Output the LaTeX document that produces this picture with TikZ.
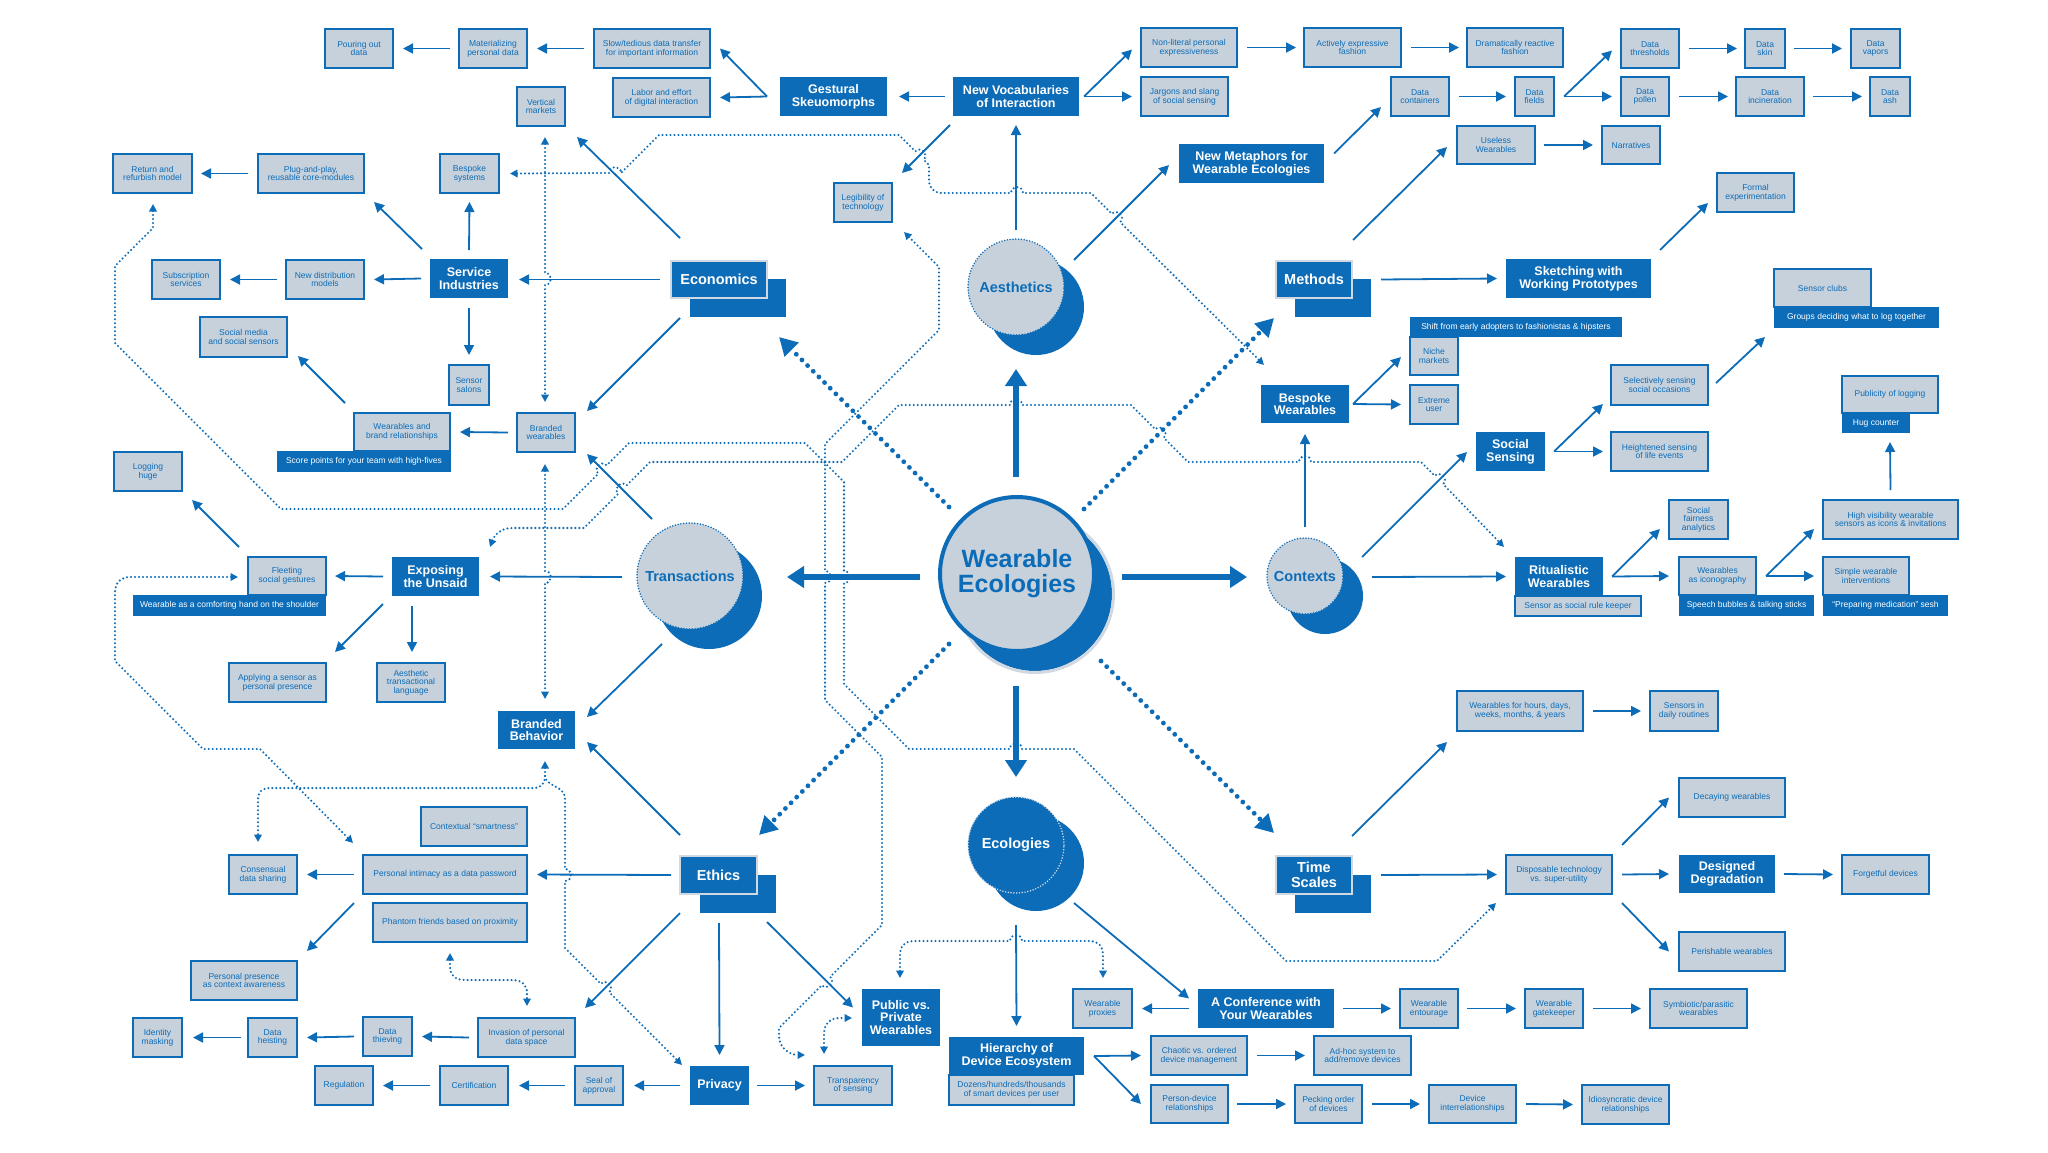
\documentclass[tikz,border=0pt]{standalone}
\usepackage{fontspec}
\setmainfont{Liberation Sans}
\usetikzlibrary{arrows.meta,calc}
\definecolor{myblue}{RGB}{12,108,184}
\definecolor{mylight}{RGB}{198,209,219}
\definecolor{halocol}{RGB}{208,217,226}
\newcommand\BX[7][leaf]{\node[#1, minimum width={(#5)-(#3)}, minimum height={(#6)-(#4)}] (#2) at ({((#3)+(#5))/2},{((#4)+(#6))/2}) {#7};}
\tikzset{
  tipS/.tip={Triangle[length=7.5pt,width=7.5pt]},
  tipM/.tip={Triangle[length=10pt,width=10pt]},
  tipL/.tip={Triangle[length=17pt,width=21pt]},
  tipD/.tip={Triangle[length=18pt,width=19pt]},
  leaf/.style={draw=myblue, fill=mylight, line width=1.8pt, inner sep=0pt, outer sep=0pt, align=center, text=myblue, font=\fontsize{8.5}{8.7}\selectfont},
  dark/.style={fill=myblue, inner sep=0pt, outer sep=0pt, align=center, text=white, font=\fontsize{12.5}{12.7}\selectfont\bfseries},
  darkL/.style={dark, font=\fontsize{14.5}{14.4}\selectfont\bfseries},
  darkS/.style={darkL, draw=halocol, line width=2pt},
  dbar/.style={fill=myblue, inner sep=0pt, outer sep=0pt, align=center, text=white, font=\fontsize{8.5}{8.7}\selectfont},
  frontc/.style={circle, inner sep=0pt, outer sep=0pt, fill=mylight, draw=myblue, line width=1.7pt, line cap=round, dash pattern=on 0pt off 2.8pt, text=myblue, font=\fontsize{14.5}{14.5}\selectfont\bfseries},
  arr/.style={draw=myblue, line width=1.8pt, -tipM},
  thk/.style={draw=myblue, line width=5.5pt, -tipL},
  thkdot/.style={draw=myblue, line width=4.8pt, line cap=round, dash pattern=on 0pt off 8pt, -tipD},
  dots/.style={draw=myblue, line width=2.3pt, line cap=round, dash pattern=on 0pt off 4pt},
  hopover/.style={bend left=90, looseness=1.7},
}
\begin{document}
\begin{tikzpicture}[x=1pt,y=-1pt]
\useasboundingbox (0,0) rectangle (2048,1152);
\fill[white] (0,0) rectangle (2048,1152);

% ---------- shadows ----------
\fill[myblue] (690,279) rectangle (786,317);
\fill[myblue] (1295,279) rectangle (1371,317);
\fill[myblue] (700,875) rectangle (776,913);
\fill[myblue] (1295,875) rectangle (1371,913);
\fill[myblue] (1036,307) circle[radius=48];
\fill[myblue] (709,596) circle[radius=53];
\fill[myblue] (1325,596) circle[radius=38];
\fill[myblue] (1036,863) circle[radius=48];
\fill[myblue] (1035,594) circle[radius=77];
\draw[halocol, line width=3pt] (1035,594) circle[radius=78.5];

% ---------- circles ----------
\node[frontc, minimum size=96pt] (aesth) at (1016,287) {Aesthetics};
\node[frontc, minimum size=106pt] (trans) at (690,576) {Transactions};
\node[frontc, minimum size=76pt] (ctx) at (1305,576) {Contexts};
\node[frontc, minimum size=96pt, fill=myblue, draw=halocol, text=white] (ecol) at (1016,845) {Ecologies};
\node[circle, minimum size=154pt, inner sep=0pt, outer sep=0pt, fill=mylight, draw=myblue, line width=4pt, text=myblue, align=center, font=\fontsize{25}{25}\selectfont\bfseries] (wec) at (1017,574) {Wearable\\Ecologies};

% ---------- top-left ----------
\BX{pour}{325}{29}{393}{68}{Pouring out\\data}
\BX{mat}{459}{29}{527}{68}{Materializing\\personal data}
\BX{slow}{594}{29}{710}{68}{Slow/tedious data transfer\\for important information}
\BX{labor}{613}{78}{710}{117}{Labor and effort\\of digital interaction}
\BX{vert}{517}{87}{565}{126}{Vertical\\markets}
\BX[dark]{gest}{780}{77}{887}{116}{Gestural\\Skeuomorphs}
\BX[dark]{newvoc}{953}{77}{1079}{116}{New Vocabularies\\of Interaction}
\BX{legib}{834}{183}{892}{222}{Legibility of\\technology}
\BX{ret}{113}{154}{192}{193}{Return and\\refurbish model}
\BX{plug}{258}{154}{364}{193}{Plug-and-play,\\reusable core-modules}
\BX{besys}{440}{154}{499}{193}{Bespoke\\systems}
\BX[dark]{serv}{430}{259}{508}{298}{Service\\Industries}
\BX{subs}{152}{260}{220}{299}{Subscription\\services}
\BX{newdist}{286}{260}{364}{299}{New distribution\\models}
\BX[darkS]{econ}{671}{261}{767}{298}{Economics}
\BX{socmed}{200}{317}{287}{357}{Social media\\and social sensors}
\BX{salon}{449}{365}{489}{405}{Sensor\\salons}
\BX[dbar]{wbbar}{277}{451}{451}{472}{Score points for your team with high-fives}
\BX{wbrand}{354}{413}{450}{451}{Wearables and\\brand relationships}
\BX{bwear}{517}{413}{575}{452}{Branded\\wearables}
\BX{logh}{114}{452}{182}{491}{Logging\\huge}
\BX[dbar]{flbar}{133}{595}{326}{616}{Wearable as a comforting hand on the shoulder}
\BX{fleet}{248}{557}{326}{595}{Fleeting\\social gestures}
\BX[dark]{expo}{392}{557}{479}{596}{Exposing\\the Unsaid}
\BX{apply}{229}{663}{326}{702}{Applying a sensor as\\personal presence}
\BX{aesttl}{377}{663}{445}{702}{Aesthetic\\transactional\\language}
\BX[dark]{bbeh}{498}{711}{575}{749}{Branded\\Behavior}

% ---------- right ----------
\BX{nonlit}{1141}{28}{1237}{67}{Non-literal personal\\expressiveness}
\BX{jarg}{1141}{77}{1228}{116}{Jargons and slang\\of social sensing}
\BX{activ}{1304}{28}{1401}{67}{Actively expressive\\fashion}
\BX{drama}{1467}{28}{1563}{67}{Dramatically reactive\\fashion}
\BX{dcont}{1391}{77}{1449}{116}{Data\\containers}
\BX{dfield}{1515}{77}{1554}{116}{Data\\fields}
\BX{dthr}{1621}{29}{1679}{68}{Data\\thresholds}
\BX{dskin}{1745}{29}{1785}{68}{Data\\skin}
\BX{dvap}{1851}{29}{1900}{68}{Data\\vapors}
\BX{dpol}{1621}{77}{1669}{116}{Data\\pollen}
\BX{dinc}{1736}{77}{1804}{116}{Data\\incineration}
\BX{dashn}{1870}{77}{1910}{116}{Data\\ash}
\BX{useless}{1457}{126}{1535}{164}{Useless\\Wearables}
\BX{narr}{1602}{126}{1660}{164}{Narratives}
\BX[dark]{newmet}{1179}{144}{1324}{183}{New Metaphors for\\Wearable Ecologies}
\BX{formal}{1717}{173}{1794}{212}{Formal\\experimentation}
\BX[darkS]{meth}{1276}{261}{1352}{298}{Methods}
\BX[dark]{sketch}{1506}{259}{1651}{298}{Sketching with\\Working Prototypes}
\BX[dbar]{scbar}{1774}{307}{1939}{328}{Groups deciding what to log together}
\BX{sclub}{1774}{269}{1871}{307}{Sensor clubs}
\BX[dbar]{shiftbar}{1410}{317}{1622}{337}{Shift from early adopters to fashionistas \& hipsters}
\BX{niche}{1410}{337}{1458}{375}{Niche\\markets}
\BX{selsens}{1611}{365}{1708}{405}{Selectively sensing\\social occasions}
\BX[dark]{bwbl}{1261}{385}{1349}{423}{Bespoke\\Wearables}
\BX{extreme}{1410}{385}{1458}{424}{Extreme\\user}
\BX[dbar]{hug}{1842}{413}{1910}{433}{Hug counter}
\BX{pub}{1842}{376}{1938}{413}{Publicity of logging}
\BX[dark]{socs}{1476}{432}{1545}{471}{Social\\Sensing}
\BX{hsens}{1611}{432}{1708}{471}{Heightened sensing\\of life events}
\BX{sfair}{1669}{500}{1728}{539}{Social\\fairness\\analytics}
\BX{hivis}{1823}{500}{1958}{539}{High visibility wearable\\sensors as icons \& invitations}
\BX{ritbar}{1515}{596}{1641}{616}{Sensor as social rule keeper}
\BX[dark]{ritual}{1515}{557}{1603}{596}{Ritualistic\\Wearables}
\BX[dbar]{icbar}{1679}{595}{1814}{616}{Speech bubbles \& talking sticks}
\BX{icon}{1679}{557}{1756}{595}{Wearables\\as iconography}
\BX[dbar]{simbar}{1823}{595}{1948}{616}{“Preparing medication” sesh}
\BX{simple}{1823}{557}{1909}{595}{Simple wearable\\interventions}
\BX{hours}{1457}{691}{1583}{731}{Wearables for hours, days,\\weeks, months, \& years}
\BX{daily}{1650}{691}{1718}{731}{Sensors in\\daily routines}
\BX{decay}{1679}{778}{1785}{817}{Decaying wearables}
\BX[darkS]{tscale}{1276}{856}{1352}{894}{Time\\Scales}
\BX{dispo}{1506}{855}{1612}{894}{Disposable technology\\vs. super-utility}
\BX[dark]{desdeg}{1679}{855}{1775}{893}{Designed\\Degradation}
\BX{forget}{1842}{855}{1929}{894}{Forgetful devices}
\BX{perish}{1679}{932}{1785}{971}{Perishable wearables}
\BX{proxy}{1073}{989}{1132}{1028}{Wearable\\proxies}
\BX[dark]{conf}{1198}{989}{1334}{1028}{A Conference with\\Your Wearables}
\BX{entour}{1400}{989}{1458}{1028}{Wearable\\entourage}
\BX{gate}{1525}{989}{1583}{1028}{Wearable\\gatekeeper}
\BX{symb}{1650}{989}{1747}{1028}{Symbiotic/parasitic\\wearables}
\BX{hierbar}{949}{1075}{1074}{1105}{Dozens/hundreds/thousands\\of smart devices per user}
\BX[dark]{hier}{949}{1037}{1084}{1075}{Hierarchy of\\Device Ecosystem}
\BX{chaos}{1151}{1036}{1247}{1075}{Chaotic vs. ordered\\device management}
\BX{adhoc}{1314}{1036}{1411}{1075}{Ad-hoc system to\\add/remove devices}
\BX{persdev}{1151}{1085}{1228}{1123}{Person-device\\relationships}
\BX{peck}{1295}{1085}{1362}{1123}{Pecking order\\of devices}
\BX{devint}{1429}{1085}{1516}{1123}{Device\\interrelationships}
\BX{idio}{1582}{1085}{1669}{1124}{Idiosyncratic device\\relationships}

% ---------- bottom-left ----------
\BX{ctxsm}{421}{807}{527}{846}{Contextual “smartness”}
\BX{consen}{229}{855}{297}{894}{Consensual\\data sharing}
\BX{pintim}{363}{855}{527}{894}{Personal intimacy as a data password}
\BX{phant}{373}{903}{527}{942}{Phantom friends based on proximity}
\BX{ppres}{191}{961}{297}{1000}{Personal presence\\as context awareness}
\BX{idmask}{133}{1018}{182}{1057}{Identity\\masking}
\BX{heist}{248}{1018}{297}{1057}{Data\\heisting}
\BX{thief}{363}{1017}{412}{1056}{Data\\thieving}
\BX{invas}{478}{1018}{575}{1057}{Invasion of personal\\data space}
\BX{regul}{315}{1066}{373}{1105}{Regulation}
\BX{certif}{440}{1066}{508}{1105}{Certification}
\BX{seal}{575}{1066}{623}{1105}{Seal of\\approval}
\BX[dark]{privacy}{690}{1066}{749}{1105}{Privacy}
\BX{transp}{814}{1066}{892}{1105}{Transparency\\of sensing}
\BX[darkS]{ethics}{680}{856}{757}{894}{Ethics}
\BX[dark]{pubpriv}{862}{989}{940}{1046}{Public vs.\\Private\\Wearables}

% ---------- thin arrows ----------
\draw[arr] ($(mat.west)+(-9,0)$) -- ($(pour.east)+(10,0)$);
\draw[arr] ($(slow.west)+(-10,0)$) -- ($(mat.east)+(10,0)$);
\coordinate (gfork) at ($(gest.west)+(-13,0)$);
\draw[arr] (gfork) -- ($(slow.east)+(10,0)$);
\draw[arr] (gfork) -- ($(labor.east)+(10,0)$);
\draw[arr] ($(newvoc.west)+(-8,0)$) -- ($(gest.east)+(12,0)$);
\draw[arr] ($(newvoc.south west)+(-3,9)$) -- ($(legib.north east)+(10,-10)$);
\draw[arr] ($(aesth.north)+(0,-9)$) -- ($(newvoc.south)+(0,9)$);
\coordinate (vfork) at ($(newvoc.east)+(5,0)$);
\draw[arr] (vfork) -- ($(nonlit.west)+(-9,2)$);
\draw[arr] (vfork) -- ($(jarg.west)+(-9,0)$);
\draw[arr] ($(nonlit.east)+(10,0)$) -- ($(activ.west)+(-8,0)$);
\draw[arr] ($(activ.east)+(10,0)$) -- ($(drama.west)+(-8,0)$);
\draw[arr] ($(aesth.center)+(58,-27)$) -- ($(newmet.south west)+(-10,-18)$);
\draw[arr] ($(newmet.east)+(10,-10)$) -- ($(dcont.south west)+(-10,-9)$);
\draw[arr] ($(dcont.east)+(10,0)$) -- ($(dfield.west)+(-9,0)$);
\coordinate (ffork) at ($(dfield.east)+(10,0)$);
\draw[arr] (ffork) -- ($(dthr.west)+(-9,2)$);
\draw[arr] (ffork) -- ($(dpol.west)+(-9,0)$);
\draw[arr] ($(dthr.east)+(10,0)$) -- ($(dskin.west)+(-8,0)$);
\draw[arr] ($(dskin.east)+(9,0)$) -- ($(dvap.west)+(-9,0)$);
\draw[arr] ($(dpol.east)+(10,0)$) -- ($(dinc.west)+(-8,0)$);
\draw[arr] ($(dinc.east)+(9,0)$) -- ($(dashn.west)+(-8,0)$);
\draw[arr] ($(meth.north east)+(1,-21)$) -- ($(useless.south west)+(-10,-17)$);
\draw[arr] ($(useless.east)+(9,0)$) -- ($(narr.west)+(-9,0)$);
\draw[arr] ($(meth.east)+(29,0)$) -- ($(sketch.west)+(-9,0)$);
\draw[arr] ($(sketch.north east)+(9,-9)$) -- ($(formal.south west)+(-9,-9)$);
\draw[arr] ($(econ.north west)+(9,-23)$) -- ($(vert.south east)+(12,11)$);
\draw[arr] ($(econ.west)+(-11,0)$) -- ($(serv.east)+(11,1)$);
\draw[arr] ($(econ.south west)+(9,20)$) -- ($(bwear.north east)+(12,-2)$);
\draw[arr] ($(serv.north west)+(-8,-10)$) -- ($(plug.south east)+(10,9)$);
\draw[arr] ($(serv.north)+(0,-9)$) -- ($(besys.south)+(0,9)$);
\draw[arr] ($(serv.west)+(-9,0)$) -- ($(newdist.east)+(10,0)$);
\draw[arr] ($(newdist.west)+(-9,0)$) -- ($(subs.east)+(10,0)$);
\draw[arr] ($(plug.west)+(-10,0)$) -- ($(ret.east)+(9,0)$);
\draw[arr] ($(serv.south)+(0,10)$) -- ($(salon.north)+(0,-10)$);
\draw[arr] ($(wbrand.north west)+(-9,-10)$) -- ($(socmed.south east)+(11,-1)$);
\draw[arr] ($(bwear.west)+(-9,0)$) -- ($(wbrand.east)+(10,0)$);
\draw[arr] ($(trans.center)+(-38,-57)$) -- ($(bwear.south east)+(12,2)$);
\draw[arr] ($(trans.center)+(-68,1)$) -- ($(expo.east)+(11,0)$);
\draw[arr] ($(expo.west)+(-9,0)$) -- ($(fleet.east)+(9,0)$);
\draw[arr] ($(expo.south west)+(-9,8)$) -- ($(apply.north east)+(9,-11)$);
\draw[arr] ($(expo.south west)+(20,10)$) -- ($(aesttl.north)+(1,-11)$);
\draw[arr] ($(fleet.north west)+(-9,-10)$) -- ($(logh.south east)+(10,9)$);
\draw[arr] ($(trans.center)+(-28,68)$) -- ($(bbeh.north east)+(12,6)$);
\draw[arr] ($(ethics.north west)+(0,-21)$) -- ($(bbeh.south east)+(12,-7)$);
\draw[arr] ($(ethics.west)+(-9,0)$) -- ($(pintim.east)+(10,0)$);
\draw[arr] ($(ethics.south west)+(0,19)$) -- ($(invas.north east)+(10,-10)$);
\draw[arr] ($(ethics.south)+(0.5,29)$) -- ($(privacy.north)+(0,-11)$);
\draw[arr] ($(ethics.south east)+(10,28)$) -- ($(pubpriv.west)+(-9,-10)$);
\draw[arr] ($(pintim.west)+(-9,0)$) -- ($(consen.east)+(10,0)$);
\draw[arr] ($(pintim.south west)+(-9,9)$) -- ($(ppres.north east)+(10,-10)$);
\draw[arr] ($(invas.west)+(-9,0)$) -- ($(thief.east)+(10,0)$);
\draw[arr] ($(thief.west)+(-9,0)$) -- ($(heist.east)+(10,0)$);
\draw[arr] ($(heist.west)+(-7,0)$) -- ($(idmask.east)+(11,0)$);
\draw[arr] ($(privacy.west)+(-10,0)$) -- ($(seal.east)+(11,0)$);
\draw[arr] ($(seal.west)+(-10,0)$) -- ($(certif.east)+(11,0)$);
\draw[arr] ($(certif.west)+(-10,0)$) -- ($(regul.east)+(10,0)$);
\draw[arr] ($(privacy.east)+(8,0)$) -- ($(transp.west)+(-9,0)$);
\draw[arr] ($(ecol.center)+(0,80)$) -- ($(hier.north)+(0,-11)$);
\draw[arr] ($(ecol.center)+(58,58)$) -- ($(conf.west)+(-9,-10)$);
\draw[arr] ($(conf.west)+(-9,0)$) -- ($(proxy.east)+(10,0)$);
\draw[arr] ($(conf.east)+(9,0)$) -- ($(entour.west)+(-9,0)$);
\draw[arr] ($(entour.east)+(9,0)$) -- ($(gate.west)+(-9,0)$);
\draw[arr] ($(gate.east)+(10,0)$) -- ($(symb.west)+(-9,0)$);
\coordinate (hfork) at ($(hier.east)+(10,0)$);
\draw[arr] (hfork) -- ($(chaos.west)+(-10,0)$);
\draw[arr] (hfork) -- ($(persdev.west)+(-10,0)$);
\draw[arr] ($(chaos.east)+(10,0)$) -- ($(adhoc.west)+(-9,0)$);
\draw[arr] ($(persdev.east)+(9,0)$) -- ($(peck.west)+(-9,0)$);
\draw[arr] ($(peck.east)+(10,0)$) -- ($(devint.west)+(-9,0)$);
\draw[arr] ($(devint.east)+(10,0)$) -- ($(idio.west)+(-9,0)$);
\draw[arr] ($(tscale.east)+(29,0)$) -- ($(dispo.west)+(-9,0)$);
\draw[arr] ($(dispo.north east)+(10,-10)$) -- ($(decay.west)+(-10,0)$);
\draw[arr] ($(dispo.east)+(10,0)$) -- ($(desdeg.west)+(-10,0)$);
\draw[arr] ($(dispo.south east)+(10,9)$) -- ($(perish.west)+(-10,0)$);
\draw[arr] ($(desdeg.east)+(9,0)$) -- ($(forget.west)+(-9,0)$);
\draw[arr] ($(tscale.north east)+(0,-20)$) -- ($(hours.south west)+(-10,11)$);
\draw[arr] ($(hours.east)+(10,0)$) -- ($(daily.west)+(-9,0)$);
\draw[arr] ($(ctx.center)+(0,-49)$) -- ($(bwbl.south)+(0,11)$);
\draw[arr] ($(ctx.center)+(57,-19)$) -- ($(socs.west)+(-9,0.5)$);
\draw[arr] ($(ctx.center)+(67,1)$) -- ($(ritual.west)+(-9,0)$);
\coordinate (bfork) at ($(bwbl.east)+(4,0)$);
\draw[arr] (bfork) -- ($(niche.west)+(-9,1)$);
\draw[arr] (bfork) -- ($(extreme.west)+(-9,0)$);
\coordinate (sfork) at ($(socs.east)+(9,0)$);
\draw[arr] (sfork) -- ($(selsens.south west)+(-8,-1)$);
\draw[arr] (sfork) -- ($(hsens.west)+(-8,0)$);
\draw[arr] ($(selsens.east)+(8,-2)$) -- ($(scbar.south west)+(-9,9)$);
\coordinate (rfork) at ($(ritual.east)+(9,0)$);
\draw[arr] (rfork) -- ($(sfair.south west)+(-9,-10)$);
\draw[arr] (rfork) -- ($(icon.west)+(-10,0)$);
\coordinate (ifork) at ($(icon.east)+(10,0)$);
\draw[arr] (ifork) -- ($(hivis.south west)+(-9,-10)$);
\draw[arr] (ifork) -- ($(simple.west)+(-9,0)$);
\draw[arr] ($(hivis.north)+(0,-10)$) -- ($(pub.south)+(0,29)$);

% ---------- thick arrows from the centre ----------
\draw[thk] ($(wec.center)+(-1,-97)$) -- ($(aesth.center)+(0,82)$);
\draw[thk] ($(wec.center)+(105,3)$) -- ($(ctx.center)+(-58,1)$);
\draw[thk] ($(wec.center)+(-97,3)$) -- ($(trans.center)+(97,1)$);
\draw[thk] ($(wec.center)+(-1,112)$) -- ($(ecol.center)+(0,-68)$);
\draw[thkdot] ($(wec.center)+(-68,-67)$) -- ($(econ.south east)+(12,39)$);
\draw[thkdot] ($(wec.center)+(67,-65)$) -- ($(meth.south west)+(-2,20)$);
\draw[thkdot] ($(wec.center)+(84,87)$) -- ($(tscale.north west)+(-2,-23)$);
\draw[thkdot] ($(wec.center)+(-68,70)$) -- ($(ethics.north east)+(2,-21)$);

% ---------- dotted links ----------
\draw[dots, tipS-tipS] ($(ret.south)+(0.5,11)$) -- (153,228) -- (115,266) -- (115,343) -- (281,509) -- (563,509) -- (598.3,473.7) to[hopover] (606.7,465.3) -- (629,443) -- (805,443) -- (844,482) -- (844,571) to[hopover] (844,583) -- (844,684) -- (909,749) -- (1010,749) to[hopover] (1022,749) -- (1074,749) -- (1286,961) -- (1437,961) -- ($(dispo.south west)+(-10,9)$);
\draw[dots, tipS-tipS] ($(expo.north east)+(11,-10)$) .. controls (494,536) and (500,528) .. (512,528) -- (584,528) -- (618.3,493.7) to[hopover] (626.7,485.3) -- (650,462) -- (842,462) -- (899,405) -- (1010,405) to[hopover] (1022,405) -- (1131,405) -- (1155.3,429.3) to[hopover] (1163.7,437.7) -- (1188,462) -- (1299,462) to[hopover] (1311,462) -- (1421,462) -- (1434.8,475.8) to[hopover] (1443.2,484.2) -- ($(ritual.north west)+(-11,-10)$);
\draw[dots, tipS-tipS] ($(legib.south east)+(12,10)$) -- (939,267) -- (939,330) -- (825,444) -- (825,571) to[hopover] (825,583) -- (825,700) -- (882,757) -- (882,925) -- (830.2,976.8) to[hopover] (821.8,985.2) -- (779,1028) -- (779,1036) .. controls (779,1048) and (790,1055) .. ($(transp.north west)+(-9,-11)$);
\draw[dots, tipS-tipS] ($(besys.east)+(11,0)$) -- (609,173) to[hopover] (621,173) -- (659,135) -- (899,135) -- (915.3,151.3) to[hopover] (923.7,159.7) -- (929,165) -- (929,180) .. controls (929,188) and (934,193) .. (942,193) -- (1011,193) to[hopover] (1023,193) -- (1091,193) -- (1111.8,213.8) to[hopover] (1120.2,222.2) -- ($(bwbl.north west)+(3,-20)$);
\draw[dots, tipS-tipS] ($(vert.south)+(4,11)$) -- (545,273) to[hopover] (545,285) -- ($(bwear.north)+(-1,-11)$);
\draw[dots, tipS-tipS] ($(bwear.south)+(-1,12)$) -- (545,571) to[hopover] (545,583) -- ($(bbeh.north)+(8.5,-12)$);
\coordinate (bsplit) at ($(bbeh.south)+(8.5,27)$);
\draw[dots, tipS-tipS] ($(bbeh.south)+(8.5,12)$) -- (bsplit) .. controls (545,784) and (541,788) .. (533,788) -- (270,788) .. controls (262,788) and (258,792) .. (258,800) -- ($(consen.north)+(-5,-13)$);
\draw[dots, -tipS] (bsplit) .. controls (545,786) and (565,786) .. (565,798) -- (565,869) to[hopover] (565,881) -- (565,948) -- (600.8,983.8) to[hopover] (609.2,992.2) -- ($(privacy.north west)+(-8,-1)$);
\draw[dots, tipS-tipS] ($(fleet.west)+(-10,1)$) -- (130,577) .. controls (121,577) and (115,583) .. (115,592) -- (115,661) -- (203,749) -- (260,749) -- ($(pintim.north west)+(-10,-12)$);
\draw[dots, tipS-tipS] ($(phant.south)+(0,11)$) -- (450,966) .. controls (450,975) and (455,980) .. (465,980) -- (512,980) .. controls (522,980) and (527,985) .. (527,993) -- ($(invas.north)+(0.5,-12)$);
\draw[dots, tipS-tipS] ($(transp.north)+(-29,-12)$) -- (824,1034) .. controls (824,1024) and (830,1018) .. (840,1018) -- ($(pubpriv.west)+(-10,0.5)$);
\draw[dots, tipS-tipS] ($(pubpriv.north)+(-1,-11)$) -- (900,955) .. controls (900,946) and (905,941) .. (914,941) -- (1010,941) to[hopover] (1022,941) -- (1089,941) .. controls (1098,941) and (1103,946) .. (1103,955) -- ($(proxy.north)+(0.5,-11)$);
\end{tikzpicture}
\end{document}
